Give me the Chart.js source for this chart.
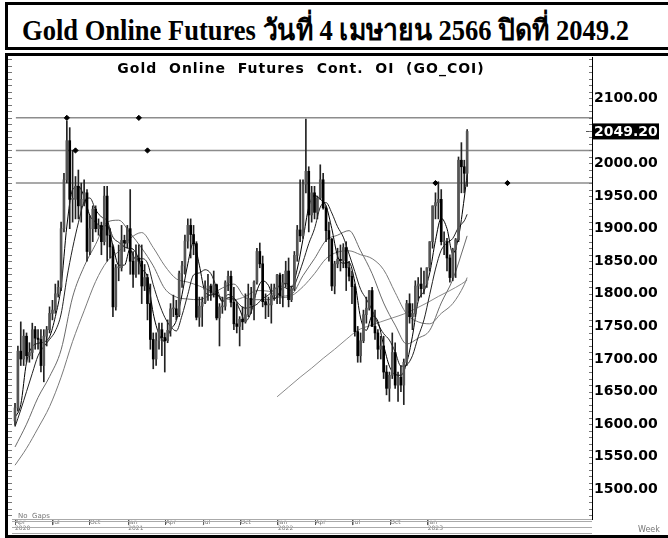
<!DOCTYPE html>
<html>
<head>
<meta charset="utf-8">
<script src="https://cdn.jsdelivr.net/npm/chart.js@4.4.0/dist/chart.umd.min.js"></script>
<style>
  body { margin: 0; background: #fff; width: 668px; height: 538px; overflow: hidden; position: relative; }
  #head { position: absolute; left: 5px; top: 2px; width: 680px; height: 42px; border: 3px solid #000; }
  #head span { position: absolute; left: 14px; top: 2px; font: bold 29px "Liberation Serif", "Times New Roman", serif;
    white-space: nowrap; transform: scaleX(0.915); transform-origin: left top; }
  #frame { position: absolute; left: 5px; top: 53px; width: 680px; height: 479px; border: 3px solid #000; }
  canvas { position: absolute; left: 0; top: 0; }
</style>
</head>
<body>
<div id="head"><span>Gold Online Futures วันที่ 4 เมษายน 2566 ปิดที่ 2049.2</span></div>
<div id="frame"></div>
<canvas id="goldChart" width="668" height="538"></canvas>
<script>
// weekly bars, week 0 = first week of Apr 2020
const opens = [1605,1625,1712,1700,1735,1705,1710,1745,1732,1730,1690,1735,1745,1770,1775,1800,1810,1900,1975,2035,
  1945,1945,1965,1935,1945,1955,1865,1900,1930,1900,1905,1880,1950,1890,1872,1780,1840,1840,1882,1878,
  1900,1850,1830,1855,1850,1812,1825,1785,1730,1700,1728,1745,1733,1728,1744,1777,1777,1768,1831,1843,
  1881,1905,1891,1877,1764,1781,1787,1808,1812,1802,1814,1763,1780,1781,1817,1827,1787,1754,1750,1761,
  1757,1768,1793,1783,1818,1865,1846,1788,1783,1783,1798,1809,1829,1797,1817,1835,1791,1808,1859,1898,
  1889,1968,1988,1921,1955,1925,1947,1975,1932,1897,1884,1812,1846,1853,1851,1871,1840,1827,1811,1742,
  1705,1728,1768,1778,1805,1750,1740,1715,1720,1680,1655,1675,1710,1660,1672,1660,1695,1785,1765,1770,
  1812,1815,1808,1815,1840,1880,1935,1940,1945,1880,1880,1855,1825,1868,1883,2005,1995,1985];
const highs = [1632,1720,1757,1745,1740,1725,1755,1750,1745,1745,1745,1750,1780,1790,1815,1820,1910,1985,2065,2055,
  2020,1980,1990,1970,1975,1960,1920,1935,1935,1915,1910,1965,1965,1900,1875,1845,1875,1905,1890,1905,
  1960,1865,1875,1875,1875,1845,1830,1815,1740,1740,1755,1755,1740,1760,1785,1798,1790,1835,1850,1890,
  1915,1915,1905,1880,1795,1795,1820,1830,1815,1835,1815,1785,1795,1820,1835,1835,1810,1785,1765,1780,
  1800,1815,1810,1820,1870,1878,1858,1800,1795,1815,1815,1830,1832,1830,1850,1855,1812,1865,1905,1975,
  1975,2068,1995,1965,1965,1950,1998,1985,1935,1910,1885,1850,1870,1875,1877,1880,1850,1835,1815,1750,
  1740,1775,1795,1805,1810,1775,1745,1735,1735,1690,1680,1740,1725,1680,1690,1700,1790,1800,1785,1820,
  1825,1840,1835,1840,1880,1935,1955,1972,1960,1895,1885,1860,1870,1885,2010,2032,2005,2052];
const lows = [1598,1620,1690,1690,1695,1695,1700,1715,1715,1680,1665,1720,1740,1760,1770,1795,1805,1895,1970,1900,
  1910,1915,1915,1910,1935,1850,1860,1880,1895,1890,1860,1875,1850,1855,1765,1775,1820,1835,1865,1870,
  1830,1810,1825,1830,1785,1805,1760,1715,1685,1690,1715,1705,1680,1725,1735,1765,1760,1765,1810,1830,
  1870,1855,1860,1760,1750,1750,1785,1790,1790,1795,1760,1720,1770,1775,1805,1780,1745,1740,1720,1745,
  1755,1765,1770,1760,1815,1840,1780,1762,1765,1755,1790,1785,1785,1780,1810,1780,1788,1805,1850,1880,
  1885,1955,1895,1910,1915,1915,1945,1930,1880,1850,1805,1800,1840,1835,1840,1805,1820,1785,1735,1695,
  1695,1725,1755,1775,1750,1730,1700,1700,1670,1645,1635,1670,1655,1635,1650,1630,1690,1755,1745,1765,
  1790,1795,1800,1810,1835,1870,1915,1915,1875,1860,1835,1818,1820,1825,1880,1955,1955,1965];
const closes = [1625,1712,1700,1735,1705,1710,1745,1732,1730,1690,1735,1745,1770,1775,1800,1810,1900,1975,2035,1945,
  1945,1965,1935,1945,1955,1865,1900,1930,1900,1905,1880,1950,1890,1872,1780,1840,1840,1882,1878,1900,
  1850,1830,1855,1850,1812,1825,1785,1730,1700,1728,1745,1733,1728,1744,1777,1777,1768,1831,1843,1881,
  1905,1891,1877,1764,1781,1787,1808,1812,1802,1814,1763,1780,1781,1817,1827,1787,1754,1750,1761,1757,
  1768,1793,1783,1818,1865,1846,1788,1783,1783,1798,1809,1829,1797,1817,1835,1791,1808,1859,1898,1889,
  1968,1988,1921,1955,1925,1947,1975,1932,1897,1884,1812,1846,1853,1851,1871,1840,1827,1811,1742,1705,
  1728,1768,1778,1805,1750,1740,1715,1720,1680,1655,1675,1710,1660,1672,1660,1695,1785,1765,1770,1812,
  1815,1808,1815,1840,1880,1935,1940,1945,1880,1880,1855,1825,1868,1883,2005,1995,1985,2049.2];

// moving averages (every 2nd / 4th week, last one at week 157)
const ma5 = [1610,1630,1695,1719,1724,1726,1734,1765,1811,1904,1960,1965,1949,1920,1910,1903,1905,1874,1844,1844,
  1870,1863,1839,1825,1770,1738,1727,1745,1759,1799,1846,1879,1844,1803,1798,1800,1788,1794,1793,1776,
  1758,1772,1805,1820,1813,1792,1803,1817,1810,1838,1884,1933,1951,1945,1935,1900,1858,1847,1848,1818,
  1763,1744,1766,1758,1721,1689,1676,1675,1694,1735,1789,1804,1832,1882,1916,1900,1862,1887,1947,1983];
const ma10 = [1596,1622,1650,1678,1705,1719,1730,1743,1769,1824,1870,1909,1941,1947,1929,1918,1912,1887,1879,1872,
  1868,1853,1854,1847,1814,1786,1764,1750,1743,1767,1799,1829,1832,1837,1831,1810,1789,1799,1794,1783,
  1778,1780,1784,1793,1798,1807,1812,1809,1805,1824,1849,1877,1900,1933,1940,1924,1903,1887,1861,1834,
  1807,1792,1775,1754,1739,1729,1711,1689,1691,1705,1734,1760,1799,1838,1867,1878,1885,1902,1912,1922];
const ma20 = [1565,1600,1641,1673,1714,1795,1842,1876,1910,1913,1893,1870,1843,1808,1795,1792,1791,1799,1809,1815,
  1794,1791,1791,1796,1799,1828,1854,1882,1890,1897,1866,1831,1786,1752,1723,1732,1744,1786,1822,1875,1889];
const ma30 = [1537,1563,1594,1627,1672,1727,1774,1819,1850,1865,1885,1894,1871,1843,1823,1818,1812,1804,1794,1791,
  1796,1805,1804,1794,1797,1811,1831,1854,1864,1866,1860,1854,1837,1802,1769,1757,1754,1770,1785,1814,1825];
const maLongWeeks = [91,95,99,103,107,111,115,119,123,127,131,135,139,143,147,151,155,157];
const maLong = [1642,1657,1672,1686,1701,1715,1730,1744,1751,1757,1763,1769,1777,1786,1796,1805,1815,1821];

// horizontal levels and their handle markers
const levels = [2070, 2020, 1970];
const levelStart = [0.3, 0.3, 0.3];
const markerWeeks = [18, 43, 21, 46, 146, 171];
const markerValues = [2070, 2070, 2020, 2020, 1970, 1970];

const yTicks = [1500,1550,1600,1650,1700,1750,1800,1850,1900,1950,2000,2050,2100];
const xTickWeeks = [0, 13, 26, 39.3, 52.3, 65.3, 78.3, 91.3, 104.3, 117.3, 130.3, 143.3];
const xTickMonths = ['Apr','Jul','Oct','Jan','Apr','Jul','Oct','Jan','Apr','Jul','Oct','Jan'];
const xTickYears = ['2020','','','2021','','','','2022','','','','2023'];
const lastPrice = 2049.2;

const X_MIN = -1.74, X_MAX = 200.35, Y_MIN = 1454.5, Y_MAX = 2163.4;

const wickData = highs.map((h, i) => ({ x: i, y: [lows[i], h] }));
const bodyData = opens.map((o, i) => ({ x: i, y: [Math.min(o, closes[i]), Math.max(o, closes[i])] }));
const bodyColors = opens.map((o, i) => closes[i] >= o ? '#555' : '#000');

const every = (arr, step) => arr.map((v, k) => ({ x: Math.min(k * step, 157), y: v }));
const maLine = (data, color) => ({
  type: 'line', data, borderColor: color, borderWidth: 1, pointRadius: 0,
  tension: 0.35, cubicInterpolationMode: 'monotone', order: 2
});

const levelSets = levels.map((lv, i) => ({
  type: 'line', data: [{ x: levelStart[i], y: lv }, { x: X_MAX, y: lv }],
  borderColor: '#8c8c8c', borderWidth: 1.5, pointRadius: 0, order: 3
}));

const decor = {
  id: 'decor',
  afterDraw(chart) {
    const { ctx, chartArea: a, scales: { y } } = chart;
    ctx.save();
    // minor ticks along both price edges
    ctx.strokeStyle = '#777';
    ctx.lineWidth = 1;
    for (let v = 1460; v <= 2160; v += 10) {
      const py = Math.round(y.getPixelForValue(v)) + 0.5;
      ctx.beginPath();
      ctx.moveTo(a.right - 3, py); ctx.lineTo(a.right, py);
      ctx.moveTo(a.left - 2, py); ctx.lineTo(a.left + 2, py);
      ctx.stroke();
    }
    // time axis band
    ctx.strokeStyle = '#aaa';
    [a.bottom + 0.5, a.bottom + 2.5, a.bottom + 8.5, a.bottom + 14.5].forEach(py => {
      ctx.beginPath(); ctx.moveTo(a.left + 2, py); ctx.lineTo(a.right, py); ctx.stroke();
    });
    ctx.fillStyle = '#777';
    ctx.font = '7px "DejaVu Sans"';
    ctx.textBaseline = 'alphabetic';
    ctx.fillText('No  Gaps', a.left + 8, a.bottom - 1);
    ctx.font = '8px "DejaVu Sans"';
    ctx.fillText('Week', 638, 532);
    // chart caption
    ctx.fillStyle = '#000';
    ctx.font = 'bold 14px "DejaVu Sans"';
    ctx.letterSpacing = '1px';
    ctx.textAlign = 'center';
    ctx.fillText('Gold  Online  Futures  Cont.  OI  (GO_COI)', 301, 73);
    ctx.letterSpacing = '0px';
    // last price tag
    const ly = y.getPixelForValue(lastPrice);
    ctx.fillStyle = '#000';
    ctx.fillRect(a.right + 1, ly - 8, 66, 16);
    ctx.fillStyle = '#fff';
    ctx.textAlign = 'left';
    ctx.textBaseline = 'middle';
    ctx.font = 'bold 14px "DejaVu Sans"';
    ctx.fillText(lastPrice.toFixed(2), a.right + 2, ly + 1);
    ctx.fillStyle = '#555';
    ctx.fillRect(a.right - 6, Math.round(ly), 3, 1);
    ctx.restore();
  }
};

new Chart(document.getElementById('goldChart').getContext('2d'), {
  data: {
    datasets: [
      { type: 'bar', data: wickData, backgroundColor: '#222', barThickness: 1, grouped: false, order: 1 },
      { type: 'bar', data: bodyData, backgroundColor: bodyColors, barThickness: 2, grouped: false, order: 0, minBarLength: 1 },
      maLine(every(ma5, 2), '#000'),
      maLine(every(ma10, 2), '#222'),
      maLine(every(ma20, 4), '#6a6a6a'),
      maLine(every(ma30, 4), '#7a7a7a'),
      maLine(maLongWeeks.map((w, i) => ({ x: w, y: maLong[i] })), '#8a8a8a'),
      ...levelSets,
      { type: 'line', data: markerWeeks.map((w, i) => ({ x: w, y: markerValues[i] })), showLine: false,
        pointStyle: 'rectRot', pointRadius: 2.6, pointBackgroundColor: '#000', pointBorderColor: '#000', order: -1 }
    ]
  },
  options: {
    responsive: false,
    animation: false,
    layout: { padding: { left: 10, top: 57, right: 0, bottom: 3 } },
    plugins: { legend: { display: false }, tooltip: { enabled: false }, title: { display: false } },
    scales: {
      x: {
        type: 'linear', min: X_MIN, max: X_MAX, position: 'bottom', offset: false,
        afterFit: s => { s.height = 16; },
        afterBuildTicks: s => { s.ticks = xTickWeeks.map(v => ({ value: v })); },
        ticks: {
          callback: (v, i) => [xTickMonths[i], xTickYears[i]],
          font: { family: 'DejaVu Sans', size: 6, lineHeight: 1.05 },
          color: '#777', align: 'start', padding: -6, maxRotation: 0, autoSkip: false
        },
        grid: { drawOnChartArea: false, tickLength: 6, color: '#555', offset: false },
        border: { display: false }
      },
      y: {
        position: 'right', min: Y_MIN, max: Y_MAX,
        afterFit: s => { s.width = 76; },
        afterBuildTicks: s => { s.ticks = yTicks.map(v => ({ value: v })); },
        ticks: {
          callback: v => v.toFixed(2),
          font: { family: 'DejaVu Sans', size: 14, weight: 'bold' },
          color: '#000', padding: 2
        },
        grid: { drawOnChartArea: false, drawTicks: false },
        border: { display: true, color: '#000', width: 1 }
      }
    }
  },
  plugins: [decor]
});
</script>
</body>
</html>
